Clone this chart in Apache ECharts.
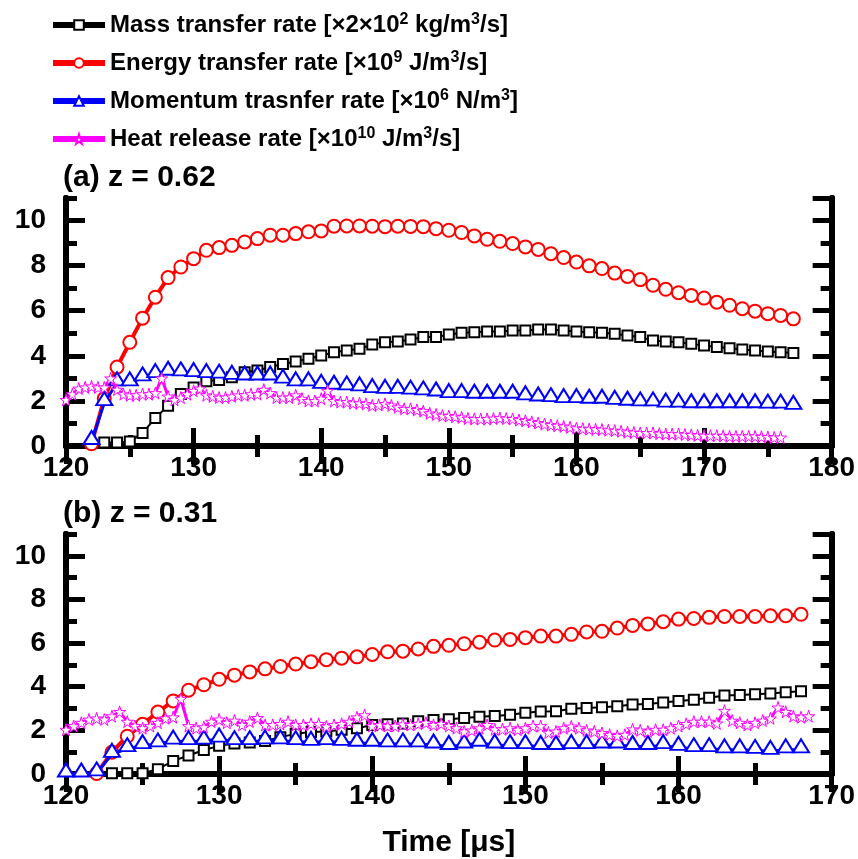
<!DOCTYPE html>
<html>
<head>
<meta charset="utf-8">
<script src="https://cdn.jsdelivr.net/npm/echarts@6/dist/echarts.min.js"></script>
<style>
  html, body { margin: 0; padding: 0; background: #fff; }
  #main { width: 858px; height: 859px; }
</style>
</head>
<body>
<div id="main"></div>
<script>
// series names (legend)
const names = [
    'Mass transfer rate [\u00d72\u00d710{sup|2} kg/m{sup|3}/s]',
    'Energy transfer rate [\u00d710{sup|9} J/m{sup|3}/s]',
    'Momentum trasnfer rate [\u00d710{sup|6} N/m{sup|3}]',
    'Heat release rate [\u00d710{sup|10} J/m{sup|3}/s]'
]
const colors = ['#000000', '#ff0000', '#0000ff', '#ff00ff']

// panel (a) z = 0.62
const massA_t = [123,124,125,126,127,128,129,130,131,132,133,134,135,136,137,138,139,140,141,142,143,144,145,146,147,148,149,150,151,152,153,154,155,156,157,158,159,160,161,162,163,164,165,166,167,168,169,170,171,172,173,174,175,176,177]
const massA = [0.15,0.16,0.2,0.58,1.24,1.79,2.31,2.6,2.87,2.93,3.05,3.27,3.35,3.5,3.64,3.75,3.87,4.01,4.16,4.24,4.31,4.5,4.6,4.64,4.72,4.83,4.83,4.95,5.02,5.05,5.08,5.08,5.12,5.12,5.17,5.17,5.12,5.08,5.05,5.02,4.98,4.9,4.83,4.68,4.64,4.6,4.53,4.46,4.39,4.34,4.28,4.24,4.19,4.16,4.12]

const energyA_t = [122,123,124,125,126,127,128,129,130,131,132,133,134,135,136,137,138,139,140,141,142,143,144,145,146,147,148,149,150,151,152,153,154,155,156,157,158,159,160,161,162,163,164,165,166,167,168,169,170,171,172,173,174,175,176,177]
const energyA = [0.1,2.1,3.5,4.6,5.67,6.6,7.47,7.94,8.31,8.68,8.8,8.9,9.05,9.2,9.35,9.35,9.42,9.5,9.54,9.75,9.76,9.76,9.75,9.73,9.75,9.74,9.73,9.64,9.57,9.47,9.32,9.17,9.08,8.98,8.83,8.72,8.53,8.36,8.16,7.99,7.87,7.67,7.52,7.38,7.13,6.95,6.8,6.68,6.56,6.38,6.24,6.09,5.98,5.87,5.79,5.64]

const momA_t = energyA_t
const momA = [0.2,1.92,2.8,2.8,3.02,3.17,3.27,3.24,3.21,3.17,3.14,3.09,3.06,3.06,3.06,2.92,2.8,2.8,2.69,2.65,2.62,2.58,2.5,2.47,2.47,2.43,2.4,2.35,2.28,2.28,2.25,2.25,2.25,2.25,2.18,2.13,2.1,2.06,2.06,2.03,2.03,1.98,1.94,1.91,1.91,1.86,1.86,1.83,1.83,1.83,1.83,1.83,1.83,1.81,1.81,1.76]

const heatA_t = [120,120.5,121,121.5,122,122.5,123,123.5,124,124.5,125,125.5,126,126.5,127,127.5,128,128.5,129,129.5,130,130.5,131,131.5,132,132.5,133,133.5,134,134.5,135,135.5,136,136.5,137,137.5,138,138.5,139,139.5,140,140.5,141,141.5,142,142.5,143,143.5,144,144.5,145,145.5,146,146.5,147,147.5,148,148.5,149,149.5,150,150.5,151,151.5,152,152.5,153,153.5,154,154.5,155,155.5,156,156.5,157,157.5,158,158.5,159,159.5,160,160.5,161,161.5,162,162.5,163,163.5,164,164.5,165,165.5,166,166.5,167,167.5,168,168.5,169,169.5,170,170.5,171,171.5,172,172.5,173,173.5,174,174.5,175,175.5,176]
const heatA = [2.05,2.3,2.55,2.6,2.65,2.6,2.6,3.0,2.5,2.3,2.25,2.25,2.3,2.3,2.35,3.0,2.2,2.05,2.15,2.3,2.45,2.55,2.25,2.2,2.15,2.15,2.2,2.25,2.25,2.3,2.3,2.5,2.35,2.15,2.15,2.15,2.25,2.1,2.0,2.0,2.1,2.45,2.0,1.95,1.95,1.9,1.9,1.87,1.8,1.82,1.87,1.8,1.72,1.65,1.65,1.6,1.55,1.45,1.4,1.35,1.33,1.3,1.27,1.22,1.2,1.2,1.2,1.22,1.24,1.22,1.2,1.15,1.12,1.07,1.02,0.97,0.93,0.9,0.87,0.83,0.79,0.77,0.75,0.74,0.73,0.7,0.68,0.65,0.61,0.6,0.58,0.58,0.58,0.55,0.53,0.53,0.53,0.51,0.49,0.47,0.46,0.46,0.46,0.45,0.43,0.43,0.43,0.43,0.43,0.41,0.4,0.38,0.38]

// panel (b) z = 0.31
const massB_t = [123,124,125,126,127,128,129,130,131,132,133,134,135,136,137,138,139,140,141,142,143,144,145,146,147,148,149,150,151,152,153,154,155,156,157,158,159,160,161,162,163,164,165,166,167,168]
const massB = [0.04,0.04,0.04,0.22,0.6,0.85,1.1,1.29,1.4,1.44,1.51,1.69,1.84,1.93,1.95,2.03,2.1,2.25,2.28,2.32,2.42,2.47,2.51,2.57,2.62,2.66,2.72,2.81,2.87,2.88,2.99,3.03,3.06,3.1,3.18,3.21,3.28,3.35,3.4,3.5,3.6,3.62,3.65,3.69,3.75,3.79]

const energyB_t = [122,123,124,125,126,127,128,129,130,131,132,133,134,135,136,137,138,139,140,141,142,143,144,145,146,147,148,149,150,151,152,153,154,155,156,157,158,159,160,161,162,163,164,165,166,167,168]
const energyB = [0.02,1.0,1.73,2.28,2.84,3.35,3.84,4.09,4.34,4.53,4.68,4.82,4.93,5.04,5.15,5.24,5.31,5.37,5.48,5.6,5.63,5.73,5.85,5.9,5.97,6.04,6.14,6.17,6.25,6.32,6.32,6.4,6.51,6.54,6.69,6.81,6.88,6.98,7.1,7.13,7.18,7.22,7.22,7.22,7.25,7.25,7.32]

const momB_t = [120,121,122,123,124,125,126,127,128,129,130,131,132,133,134,135,136,137,138,139,140,141,142,143,144,145,146,147,148,149,150,151,152,153,154,155,156,157,158,159,160,161,162,163,164,165,166,167,168]
const momB = [0.0,0.0,0.05,0.9,1.16,1.3,1.38,1.51,1.48,1.51,1.6,1.48,1.48,1.52,1.52,1.48,1.45,1.48,1.45,1.41,1.41,1.38,1.38,1.38,1.33,1.26,1.33,1.41,1.33,1.3,1.3,1.26,1.26,1.3,1.3,1.33,1.33,1.26,1.26,1.3,1.22,1.16,1.16,1.11,1.11,1.08,1.04,1.11,1.11]

const heatB_t = [120,120.5,121,121.5,122,122.5,123,123.5,124,124.5,125,125.5,126,126.5,127,127.5,128,128.5,129,129.5,130,130.5,131,131.5,132,132.5,133,133.5,134,134.5,135,135.5,136,136.5,137,137.5,138,138.5,139,139.5,140,140.5,141,141.5,142,142.5,143,143.5,144,144.5,145,145.5,146,146.5,147,147.5,148,148.5,149,149.5,150,150.5,151,151.5,152,152.5,153,153.5,154,154.5,155,155.5,156,156.5,157,157.5,158,158.5,159,159.5,160,160.5,161,161.5,162,162.5,163,163.5,164,164.5,165,165.5,166,166.5,167,167.5,168,168.5]
const heatB = [2.03,2.2,2.35,2.5,2.55,2.5,2.65,2.85,2.4,2.2,2.1,2.2,2.35,2.55,2.6,3.45,2.2,2.1,2.15,2.4,2.5,2.35,2.45,2.25,2.4,2.57,2.25,2.25,2.3,2.4,2.25,2.25,2.3,2.3,2.18,2.25,2.3,2.4,2.6,2.7,2.2,2.25,2.2,2.2,2.28,2.25,2.3,2.35,2.25,2.3,2.2,2.1,1.95,2.0,2.1,2.25,2.05,2.05,2.1,2.03,2.1,2.2,2.2,1.9,1.95,2.1,2.18,2.1,2.0,1.95,1.88,1.8,1.75,1.8,2.05,2.0,1.95,2.03,2.03,2.1,2.2,2.3,2.4,2.4,2.4,2.32,2.9,2.45,2.35,2.25,2.35,2.45,2.55,3.05,2.85,2.65,2.6,2.65]

const xTicksA = [120, 180]
const xTicksB = [120, 170]
const yRange = [0, 11]

const starPath = 'path://M50,0 L61,35 L98,35 L68,57 L79,91 L50,70 L21,91 L32,57 L2,35 L39,35 Z'
const FONT = "'Liberation Sans', Arial, sans-serif"

function zip(t, v) {
    let out = []
    for (let i = 0; i < t.length; i++) out.push([t[i], v[i]])
    return out
}

let chart = echarts.init(document.getElementById('main'))

// 坐标轴
function xAx(grid, range, pos, labels) {
    return {
        type: 'value', gridIndex: grid, position: pos, min: range[0], max: range[1], interval: 10,
        axisLine: { lineStyle: { color: '#000', width: 6 } },
        axisTick: { inside: true, length: 18, lineStyle: { width: 5, color: '#000' } },
        minorTick: { show: true, splitNumber: 2, length: 11, lineStyle: { width: 5, color: '#000' } },
        splitLine: { show: false },
        axisLabel: { show: labels, color: '#000', fontSize: 28, fontWeight: 'bold', fontFamily: FONT, margin: 8 }
    }
}
function yAx(grid, pos, interval, tickLen, labels) {
    return {
        type: 'value', gridIndex: grid, position: pos, min: yRange[0], max: yRange[1], interval: interval,
        axisLine: { lineStyle: { color: '#000', width: 6 } },
        axisTick: { inside: true, length: tickLen, lineStyle: { width: 5, color: '#000' } },
        splitLine: { show: false },
        axisLabel: { show: labels, showMaxLabel: false, color: '#000', fontSize: 28, fontWeight: 'bold', fontFamily: FONT, margin: 20 }
    }
}

let xAxis = [
    xAx(0, xTicksA, 'bottom', true), xAx(0, xTicksA, 'top', false),
    xAx(1, xTicksB, 'bottom', true), xAx(1, xTicksB, 'top', false)
]
xAxis[2].name = 'Time [\u03bcs]'
xAxis[2].nameLocation = 'middle'
xAxis[2].nameGap = 54
xAxis[2].nameTextStyle = { color: '#000', fontSize: 30, fontWeight: 'bold', fontFamily: FONT }

let yAxis = [
    yAx(0, 'left', 2, 19, true), yAx(0, 'left', 1, 11, false), yAx(0, 'right', 2, 19, false), yAx(0, 'right', 1, 11, false),
    yAx(1, 'left', 2, 19, true), yAx(1, 'left', 1, 11, false), yAx(1, 'right', 2, 19, false), yAx(1, 'right', 1, 11, false)
]

function mk(i, grid, data) {
    let s = {
        name: names[i], type: 'line', xAxisIndex: grid * 2, yAxisIndex: grid * 4,
        data: data, clip: false, z: 2 + i, animation: false,
        lineStyle: { color: colors[i], width: [2, 4, 3, 3][i] },
        emphasis: { disabled: true }
    }
    if (i === 0) { s.symbol = 'emptyRect'; s.symbolSize = 10; s.itemStyle = { color: colors[i], borderWidth: 2 } }
    if (i === 1) { s.symbol = 'emptyCircle'; s.symbolSize = 13; s.itemStyle = { color: colors[i], borderWidth: 2 } }
    if (i === 2) { s.symbol = 'emptyTriangle'; s.symbolSize = [16, 13]; s.symbolOffset = [0, -4]; s.itemStyle = { color: colors[i], borderWidth: 2 } }
    if (i === 3) { s.symbol = starPath; s.symbolSize = 12; s.itemStyle = { color: '#fff', borderColor: colors[i], borderWidth: 1 } }
    return s
}

let series = [
    mk(0, 0, zip(massA_t, massA)), mk(1, 0, zip(energyA_t, energyA)), mk(2, 0, zip(momA_t, momA)), mk(3, 0, zip(heatA_t, heatA)),
    mk(0, 1, zip(massB_t, massB)), mk(1, 1, zip(energyB_t, energyB)), mk(2, 1, zip(momB_t, momB)), mk(3, 1, zip(heatB_t, heatB))
]

let option = {
    backgroundColor: '#fff',
    animation: false,
    title: [
        { text: '(a) z = 0.62', left: 58, top: 158, textStyle: { color: '#000', fontSize: 30, fontWeight: 'bold', fontFamily: FONT } },
        { text: '(b) z = 0.31', left: 58, top: 494, textStyle: { color: '#000', fontSize: 30, fontWeight: 'bold', fontFamily: FONT } }
    ],
    legend: {
        data: names, orient: 'vertical', left: 50, top: 12, padding: 0, itemWidth: 52, itemHeight: 12, itemGap: 12,
        lineStyle: { width: 6 },
        selectedMode: false,
        textStyle: {
            color: '#000', fontSize: 24, fontWeight: 'bold', fontFamily: FONT, lineHeight: 26,
            rich: { sup: { fontSize: 16, fontWeight: 'bold', fontFamily: FONT, color: '#000', verticalAlign: 'top', lineHeight: 16 } }
        }
    },
    grid: [
        { left: 66, right: 24, top: 198, height: 248 },
        { left: 66, right: 24, top: 534, height: 247 }
    ],
    xAxis: xAxis,
    yAxis: yAxis,
    series: series
}
chart.setOption(option)
</script>
</body>
</html>
